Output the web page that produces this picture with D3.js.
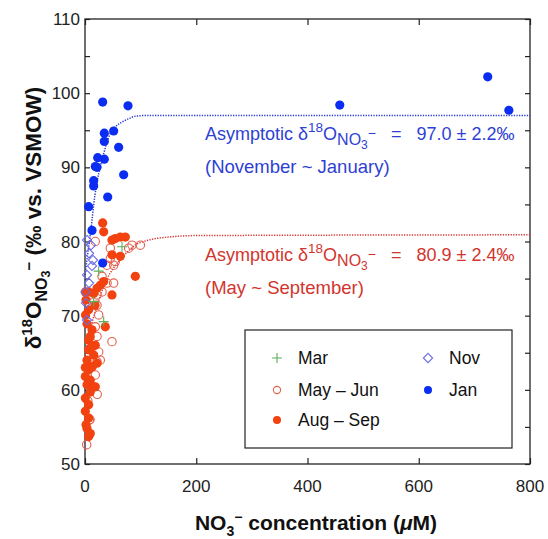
<!DOCTYPE html>
<html>
<head>
<meta charset="utf-8">
<script src="https://cdn.jsdelivr.net/npm/d3@7"></script>
<style>
  body { margin: 0; background: #fff; }
  text { font-family: "Liberation Sans", Arial, sans-serif; }
</style>
</head>
<body>
<svg id="chart" width="548" height="539"></svg>
<script>
// ---- data: [NO3 uM, d18O permil] ----
var marPts = [[66.5, 79.3], [24.6, 76.0], [15.6, 71.9], [33.6, 69.2]];

var mayJunPts = [
  [18.5, 80.0], [45.5, 79.1], [78.5, 79.1], [84.5, 79.5], [99.5, 79.5],
  [45.5, 77.7], [54.5, 77.3], [51.5, 76.8], [39.6, 76.8], [30.6, 75.3],
  [51.5, 74.4], [39.6, 74.4], [21.6, 72.8], [30.6, 73.2], [9.5, 72.8],
  [21.6, 71.4], [24.6, 70.1], [18.5, 68.5], [21.6, 67.2], [48.5, 66.5],
  [24.6, 65.1], [21.6, 63.8], [27.5, 64.0], [18.5, 62.0], [12.6, 63.1],
  [22.0, 59.4], [9.0, 56.0], [3.0, 52.6], [7.7, 55.9], [5.0, 58.5]
];

var augSepPts = [
  [31.8, 82.5], [33.6, 81.3], [54.5, 80.4], [63.5, 80.6], [72.5, 80.6],
  [48.5, 80.2], [48.5, 78.2], [63.5, 78.0], [90.5, 75.3], [33.6, 74.6],
  [27.5, 74.1], [21.6, 73.7], [6.6, 73.2], [15.6, 73.0], [48.5, 72.8],
  [0.6, 73.2], [1.8, 72.1], [18.0, 71.4],
  [6.6, 70.8], [1.0, 70.1], [36.5, 68.5], [12.6, 68.1], [9.5, 67.2],
  [18.5, 66.0], [6.6, 65.4], [15.6, 64.7], [3.6, 64.0], [21.6, 63.6],
  [6.6, 62.7], [0.6, 61.8], [9.5, 61.3], [3.6, 60.7], [15.6, 60.4],
  [12.6, 63.1], [6.6, 66.7], [18.5, 60.4], [9.5, 59.7], [0.6, 58.9],
  [6.6, 58.0], [0.6, 57.1], [6.6, 56.2], [3.6, 54.8], [6.6, 53.7],
  [1.8, 55.3], [9.5, 54.1], [3.6, 68.9], [12.6, 65.8], [0.6, 63.0]
];

var novPts = [
  [3.6, 80.2], [10.8, 79.5], [7.2, 78.4], [14.4, 77.5], [12.6, 76.7],
  [3.6, 75.5], [7.2, 74.4], [1.0, 73.2], [1.8, 71.7], [3.6, 69.4]
];

var janPts = [
  [31.8, 98.8], [77.3, 98.3], [34.7, 94.6], [51.5, 94.9], [34.7, 93.5],
  [60.5, 92.7], [22.8, 91.3], [34.7, 91.1], [18.6, 90.1], [21.6, 90.0],
  [69.5, 89.0], [15.6, 88.2], [15.6, 87.5], [40.8, 86.0], [6.6, 84.7],
  [12.6, 81.5], [31.8, 77.1], [458, 98.4], [724, 102.2], [762, 97.7]
];

// fitted curves
var blueFitX = [0, 5, 10, 17.4, 25, 30.6, 38, 45.5, 55, 66.5, 80, 90.5, 115, 150, 800];
var blueFitY = [75.5, 78.4, 81.2, 86.0, 89.3, 91.0, 93.0, 94.6, 95.5, 96.1, 96.6, 96.9, 97.0, 97.0, 97.0];
var redFitX = [0, 5, 10, 15, 22, 30, 40, 50, 60, 75, 90, 115, 150, 200, 800];
var redFitY = [64.5, 66.5, 68.3, 69.7, 71.4, 73.2, 75.0, 76.3, 77.3, 78.5, 79.5, 80.2, 80.6, 80.8, 80.9];

var xTicks = [0, 200, 400, 600, 800];
var yTicks = [50, 60, 70, 80, 90, 100, 110];

(function() {
  var svg = d3.select("#chart");
  var mLeft = 85, mRight = 530, mTop = 19, mBottom = 464;

  var x = d3.scaleLinear().domain([0, 800]).range([mLeft, mRight]);
  var y = d3.scaleLinear().domain([50, 110]).range([mBottom, mTop]);

  var cBlue = "#0b2df2", cRed = "#f2420f", cOpen = "#e4604c",
      cNov = "#6b6be6", cMar = "#5aaf5a";

  // axes: ticks inward on all four sides
  var yMinor = d3.range(50, 111, 5);
  function noDomain(g) { g.select(".domain").remove(); }
  svg.append("g").attr("transform", "translate(" + mLeft + ",0)")
    .call(d3.axisRight(y).tickValues(yMinor).tickSize(5).tickFormat("")).call(noDomain);
  svg.append("g").attr("transform", "translate(" + mRight + ",0)")
    .call(d3.axisLeft(y).tickValues(yMinor).tickSize(5).tickFormat("")).call(noDomain);
  svg.append("g").attr("transform", "translate(0," + mBottom + ")")
    .call(d3.axisTop(x).tickValues(xTicks).tickSize(6).tickFormat("")).call(noDomain);
  svg.append("g").attr("transform", "translate(0," + mTop + ")")
    .call(d3.axisBottom(x).tickValues(xTicks).tickSize(6).tickFormat("")).call(noDomain);
  svg.selectAll(".tick line").attr("stroke", "#222").attr("stroke-width", 1.2);

  svg.append("rect")
    .attr("x", mLeft).attr("y", mTop)
    .attr("width", mRight - mLeft).attr("height", mBottom - mTop)
    .attr("fill", "none").attr("stroke", "#222").attr("stroke-width", 1.3);

  // tick labels
  svg.append("g").selectAll("text").data(xTicks).enter().append("text")
    .attr("x", function(d) { return x(d); })
    .attr("y", mBottom + 28)
    .attr("text-anchor", "middle")
    .attr("font-size", 17).attr("fill", "#222")
    .text(function(d) { return d; });
  svg.append("g").selectAll("text").data(yTicks).enter().append("text")
    .attr("x", mLeft - 5)
    .attr("y", function(d) { return y(d) + 6; })
    .attr("text-anchor", "end")
    .attr("font-size", 17).attr("fill", "#222")
    .text(function(d) { return d; });

  // axis titles
  var xt = svg.append("text")
    .attr("x", 316).attr("y", 530)
    .attr("text-anchor", "middle")
    .attr("font-size", 21).attr("font-weight", "bold").attr("fill", "#111");
  xt.append("tspan").text("NO");
  xt.append("tspan").attr("font-size", 14).attr("dy", 6).text("3");
  xt.append("tspan").attr("font-size", 14).attr("dy", -14).text("\u2212");
  xt.append("tspan").attr("dy", 8).text(" concentration (");
  xt.append("tspan").attr("font-style", "italic").text("\u03bc");
  xt.append("tspan").text("M)");

  var yt = svg.append("text")
    .attr("transform", "translate(41,218) rotate(-90)")
    .attr("text-anchor", "middle")
    .attr("font-size", 22.5).attr("font-weight", "bold").attr("fill", "#111");
  yt.append("tspan").text("\u03b4");
  yt.append("tspan").attr("font-size", 15).attr("dy", -9).text("18");
  yt.append("tspan").attr("dy", 9).text("O");
  yt.append("tspan").attr("font-size", 16).attr("dy", 6).text("NO");
  yt.append("tspan").attr("font-size", 12.5).attr("dy", 3).text("3");
  yt.append("tspan").attr("font-size", 15).attr("dy", -16).text("\u2212");
  yt.append("tspan").attr("dy", 7).text(" (\u2030 vs. VSMOW)");

  // fitted curves
  function fitLine(xs, ys) {
    return d3.line().curve(d3.curveMonotoneX)
      .x(function(d, i) { return x(xs[i]); })
      .y(function(d, i) { return y(ys[i]); })(xs);
  }
  svg.append("path").attr("d", fitLine(blueFitX, blueFitY))
    .attr("fill", "none").attr("stroke", "#2a3cd0").attr("stroke-width", 1.5)
    .attr("stroke-dasharray", "1.3,1.3");
  svg.append("path").attr("d", fitLine(redFitX, redFitY))
    .attr("fill", "none").attr("stroke", "#d43a3a").attr("stroke-width", 1.5)
    .attr("stroke-dasharray", "1.3,1.3");

  // points
  var diamond = "M0,-4.6L4.6,0L0,4.6L-4.6,0Z", cross = "M-5,0H5M0,-5V5";
  var pts = svg.append("g");
  pts.selectAll(".may").data(mayJunPts).enter().append("circle")
    .attr("cx", function(d) { return x(d[0]); }).attr("cy", function(d) { return y(d[1]); })
    .attr("r", 4.2).attr("fill", "none").attr("stroke", cOpen).attr("stroke-width", 1.1);
  pts.selectAll(".aug").data(augSepPts).enter().append("circle")
    .attr("cx", function(d) { return x(d[0]); }).attr("cy", function(d) { return y(d[1]); })
    .attr("r", 4.6).attr("fill", cRed);
  pts.selectAll(".nov").data(novPts).enter().append("path")
    .attr("transform", function(d) { return "translate(" + x(d[0]) + "," + y(d[1]) + ")"; })
    .attr("d", diamond)
    .attr("fill", "none").attr("stroke", cNov).attr("stroke-width", 1.1);
  pts.selectAll(".mar").data(marPts).enter().append("path")
    .attr("transform", function(d) { return "translate(" + x(d[0]) + "," + y(d[1]) + ")"; })
    .attr("d", cross)
    .attr("stroke", cMar).attr("stroke-width", 1.1);
  pts.selectAll(".jan").data(janPts).enter().append("circle")
    .attr("cx", function(d) { return x(d[0]); }).attr("cy", function(d) { return y(d[1]); })
    .attr("r", 4.6).attr("fill", cBlue);

  // annotations
  var nb = "\u00a0\u00a0\u00a0";
  function asym(xp, yp, color, value, note) {
    var t = svg.append("text").attr("x", xp).attr("y", yp)
      .attr("font-size", 18).attr("fill", color);
    t.append("tspan").text("Asymptotic \u03b4");
    t.append("tspan").attr("font-size", 13.5).attr("dy", -8).text("18");
    t.append("tspan").attr("dy", 8).text("O");
    t.append("tspan").attr("font-size", 16).attr("dy", 5).text("NO");
    t.append("tspan").attr("font-size", 12).attr("dy", 4).text("3");
    t.append("tspan").attr("font-size", 14).attr("dy", -11).text("\u2212");
    t.append("tspan").attr("dy", 2).text(nb + "=" + nb + value);
    svg.append("text").attr("x", xp).attr("y", yp + 33)
      .attr("font-size", 18.5).attr("fill", color).text(note);
  }
  asym(205, 140, "#2e3fd4", "97.0 \u00b1 2.2\u2030", "(November ~ January)");
  asym(205, 261, "#d2352d", "80.9 \u00b1 2.4\u2030", "(May ~ September)");

  // legend
  var lg = svg.append("g");
  lg.append("rect").attr("x", 245).attr("y", 330).attr("width", 267).attr("height", 118)
    .attr("fill", "#fff").attr("stroke", "#222").attr("stroke-width", 1.2);
  var legendItems = [
    { label: "Mar", sx: 277, sy: 358, kind: "mar" },
    { label: "May \u2013 Jun", sx: 277, sy: 390, kind: "may" },
    { label: "Aug \u2013 Sep", sx: 277, sy: 420, kind: "aug" },
    { label: "Nov", sx: 428, sy: 358, kind: "nov" },
    { label: "Jan", sx: 428, sy: 390, kind: "jan" }
  ];
  legendItems.forEach(function(it) {
    var g = lg.append("g").attr("transform", "translate(" + it.sx + "," + it.sy + ")");
    if (it.kind === "mar") g.append("path").attr("d", cross).attr("stroke", cMar).attr("stroke-width", 1.1);
    if (it.kind === "may") g.append("circle").attr("r", 3.6).attr("fill", "none").attr("stroke", cOpen).attr("stroke-width", 1.1);
    if (it.kind === "aug") g.append("circle").attr("r", 4).attr("fill", cRed);
    if (it.kind === "nov") g.append("path").attr("d", diamond).attr("fill", "none").attr("stroke", cNov).attr("stroke-width", 1.1);
    if (it.kind === "jan") g.append("circle").attr("r", 4).attr("fill", cBlue);
    g.append("text").attr("x", 21).attr("y", 6).attr("font-size", 17.5).attr("fill", "#111").text(it.label);
  });
})();
</script>
</body>
</html>
